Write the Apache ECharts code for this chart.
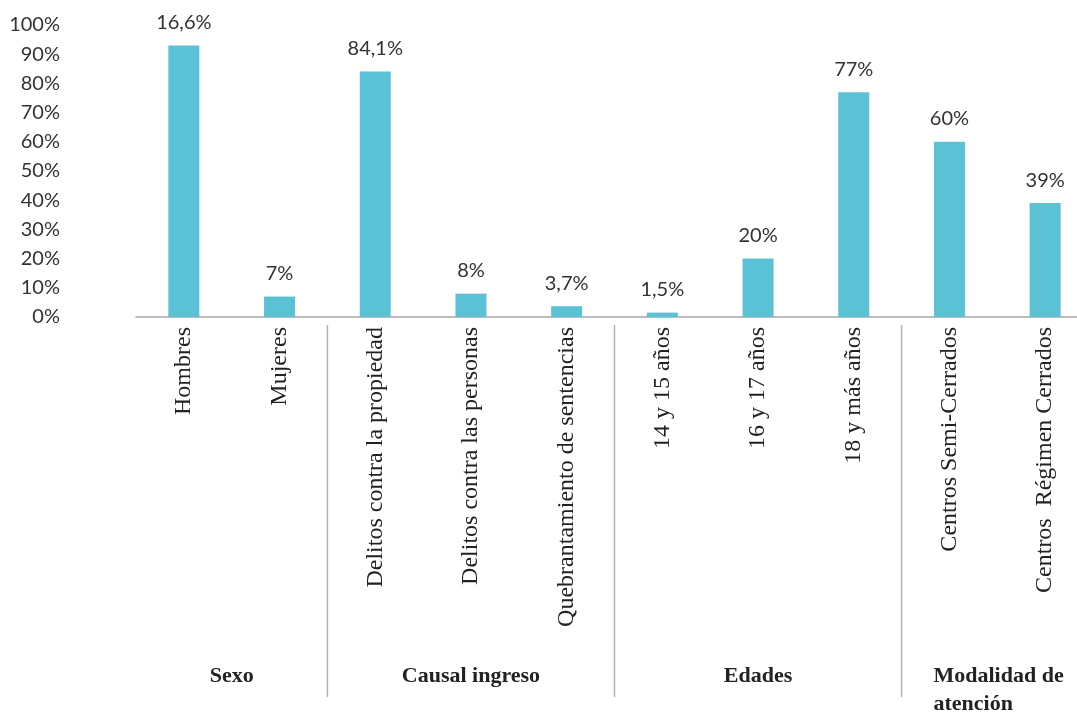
<!DOCTYPE html>
<html>
<head>
<meta charset="utf-8">
<script src="https://cdn.jsdelivr.net/npm/echarts@6/dist/echarts.min.js"></script>
<style>
  html, body { margin: 0; padding: 0; background: #fff; overflow: hidden; }
  /* the original plot runs past the right edge of the picture */
  #chart { width: 1093px; height: 712px; }
</style>
</head>
<body>
<div id="chart"></div>
<script>
    var categories = ['Hombres', 'Mujeres', 'Delitos contra la propiedad', 'Delitos contra las personas',
        'Quebrantamiento de sentencias', '14 y 15 años', '16 y 17 años', '18 y más años',
        'Centros Semi-Cerrados', 'Centros  Régimen Cerrados']
    // bar heights as drawn (the first label reads 16,6% but the bar stands at ~93%)
    var values = [93, 7, 84.1, 8, 3.7, 1.5, 20, 77, 60, 39]
    var valueLabels = ['16,6%', '7%', '84,1%', '8%', '3,7%', '1,5%', '20%', '77%', '60%', '39%']
    var groupNames = ['Sexo', 'Causal ingreso', 'Edades', 'Modalidad de\natención']
    var groupSizes = [2, 3, 3, 2]
    var yMax = 100
    var yStep = 10

    var serif = '"Liberation Serif", "DejaVu Serif", serif'
    var sans = 'Lato, "Open Sans", sans-serif'

    var chart = echarts.init(document.getElementById('chart'))

    var option = {
        animation: false,
        backgroundColor: '#fff',
        grid: {
            left: 136,
            right: 0,
            top: 25,
            bottom: 395,
            containLabel: false
        },
        xAxis: {
            type: 'category',
            data: categories,
            axisLine: { lineStyle: { color: '#a6a6a6', width: 1.5 } },
            axisTick: { show: false },
            axisLabel: {
                interval: 0,
                rotate: 90,
                margin: 10,
                color: '#222',
                fontFamily: serif,
                fontSize: 24
            }
        },
        yAxis: {
            type: 'value',
            min: 0,
            max: yMax,
            interval: yStep,
            axisLine: { show: false },
            axisTick: { show: false },
            splitLine: { show: false },
            axisLabel: {
                margin: 76,
                color: '#333',
                fontFamily: sans,
                fontSize: 20,
                formatter: function (v) { return v + '%' }
            }
        },
        series: [
            {
                type: 'bar',
                data: values,
                barWidth: 31,
                itemStyle: { color: '#5bc2d5' },
                label: {
                    show: true,
                    position: 'top',
                    distance: 13,
                    color: '#333',
                    fontFamily: sans,
                    fontSize: 20,
                    formatter: function (p) { return valueLabels[p.dataIndex] }
                }
            }
        ]
    }
    chart.setOption(option)

    // group separators and group names below the rotated labels
    function px(i) {
        return chart.convertToPixel({ xAxisIndex: 0 }, categories[i])
    }
    var graphics = []
    var start = 0
    groupSizes.forEach(function (size, g) {
        var end = start + size - 1
        var left = start === 0 ? px(0) - (px(1) - px(0)) / 2 : (px(start - 1) + px(start)) / 2
        var right = end === categories.length - 1 ? px(end) + (px(end) - px(end - 1)) / 2 : (px(end) + px(end + 1)) / 2
        if (start > 0) {
            graphics.push({
                type: 'line',
                shape: { x1: left, y1: 325, x2: left, y2: 697 },
                style: { stroke: '#b3b3b3', lineWidth: 1.5 }
            })
        }
        var last = g === groupSizes.length - 1
        graphics.push({
            type: 'text',
            x: last ? px(start) - 16 : (left + right) / 2,
            y: 662,
            style: {
                text: groupNames[g],
                font: 'bold 22px ' + serif,
                fill: '#222',
                align: last ? 'left' : 'center',
                verticalAlign: 'top',
                lineHeight: 28
            }
        })
        start += size
    })
    chart.setOption({ graphic: graphics })
</script>
</body>
</html>
